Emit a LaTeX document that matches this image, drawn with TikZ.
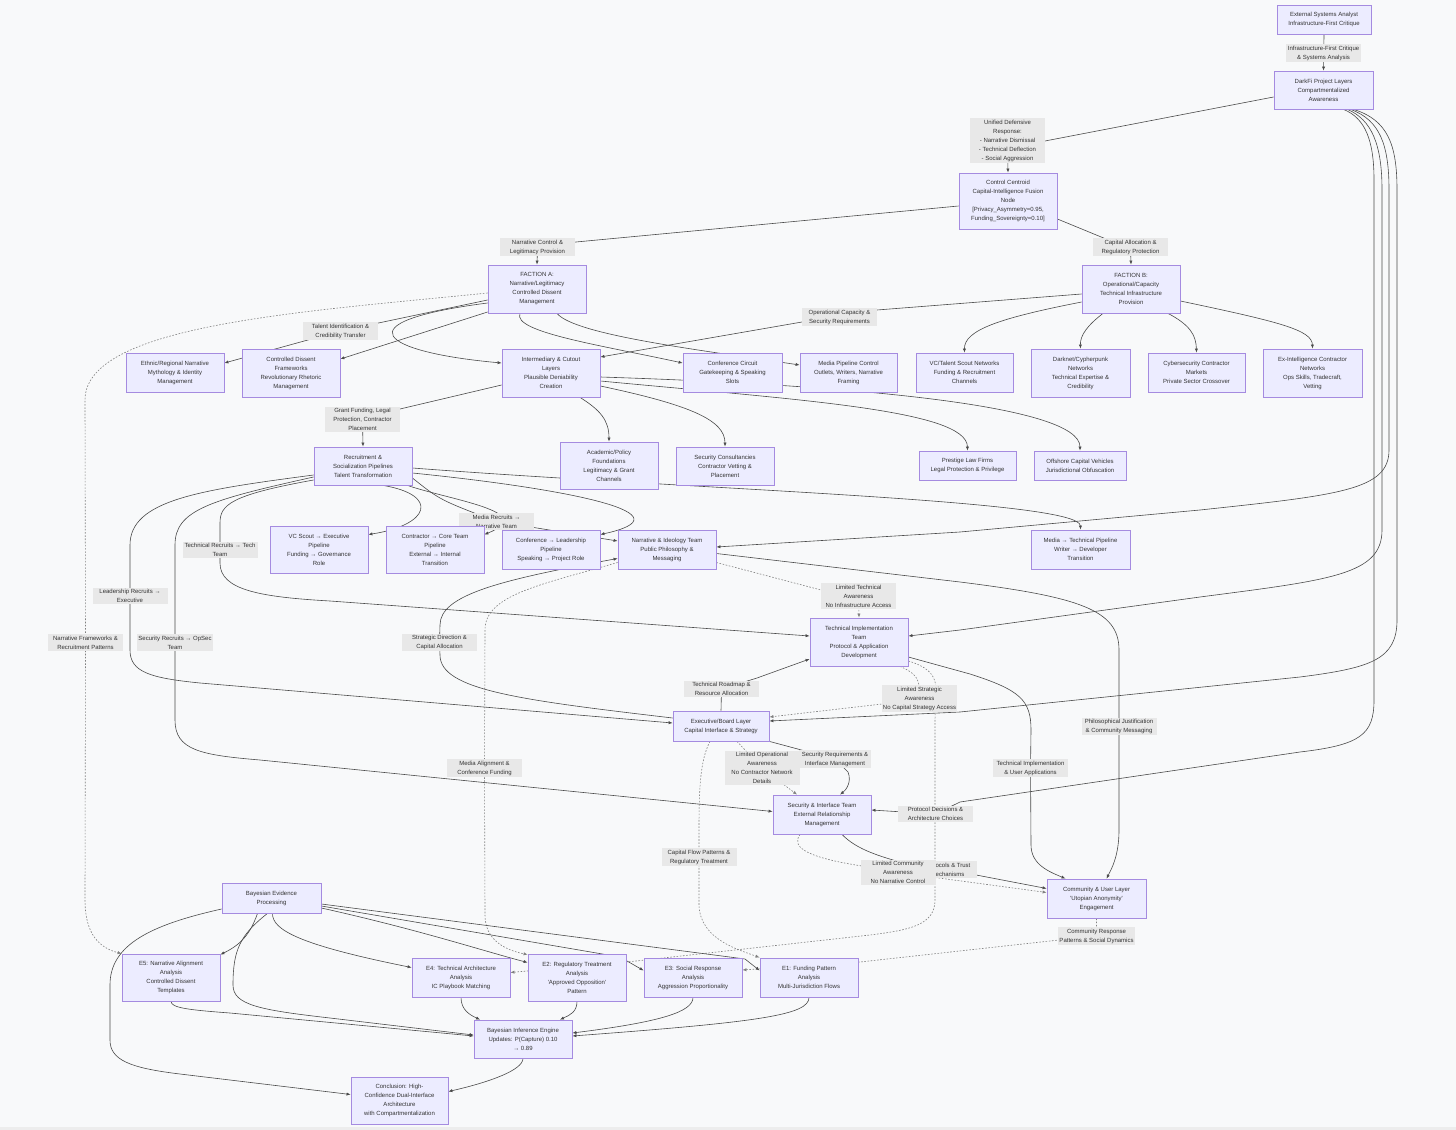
\documentclass[tikz,border=0pt]{standalone}
\usepackage{fontspec}
\setmainfont{Liberation Sans}
\usetikzlibrary{arrows.meta,calc}
\definecolor{bgc}{HTML}{F8F9FA}
\definecolor{boxf}{HTML}{ECECFF}
\definecolor{boxd}{HTML}{A58BE0}
\definecolor{lblf}{HTML}{E8E8E8}
\definecolor{txt}{HTML}{333333}
\definecolor{edc}{HTML}{4A4A4A}
\definecolor{dtc}{HTML}{808080}
\pgfdeclarelayer{bg}\pgfdeclarelayer{edges}\pgfdeclarelayer{labels}
\pgfsetlayers{bg,edges,labels,main}
\tikzset{
 nf/.style={font=\fontsize{4.5pt}{6.75pt}\selectfont},
 box/.style={nf, draw=boxd, fill=boxf, line width=0.6pt, inner sep=0pt, align=center, text=txt, minimum width=73.5pt},
 bw/.style={minimum width=#1*0.75pt},
 bh/.style={minimum height=#1*0.75pt},
 lbl/.style={nf, fill=lblf, inner xsep=0.8pt, inner ysep=1.2pt, align=center, text=txt, minimum width=56.25pt},
 ar/.style={draw=edc, line width=0.45pt, -{Latex[length=3pt,width=2.4pt]}},
 dt/.style={ar, draw=dtc, dash pattern=on 1.2pt off 1.2pt},
}
\begin{document}
\begin{tikzpicture}[x=0.75pt,y=-0.75pt]
\begin{pgfonlayer}{bg}
\fill[bgc] (0,0) rectangle (1456,1130);
\fill[black!7] (0,1127) rectangle (1456,1130);
\end{pgfonlayer}
\useasboundingbox (0,0) rectangle (1456,1130);

% ---------- nodes ----------
\node[box,bw=94,bh=29] (ext) at (1324,19.5) {External Systems Analyst\\Infrastructure-First Critique};
\node[box,bw=99,bh=38] (darkfi) at (1323.5,90) {DarkFi Project Layers\\Compartmentalized\\Awareness};
\node[box,bh=56] (centroid) at (1008,201) {Control Centroid\\Capital-Intelligence Fusion\\Node\\{}[Privacy\_Asymmetry=0.95,\\Funding\_Sovereignty=0.10]};
\node[box,bh=48] (facA) at (537,289) {FACTION A:\\Narrative/Legitimacy\\Controlled Dissent\\Management};
\node[box,bh=48] (facB) at (1131,289) {FACTION B:\\Operational/Capacity\\Technical Infrastructure\\Provision};
\node[box,bh=39] (ethnic) at (175,372.5) {Ethnic/Regional Narrative\\Mythology \& Identity\\Management};
\node[box,bh=48] (cdis) at (291,373) {Controlled Dissent\\Frameworks\\Revolutionary Rhetoric\\Management};
\node[box,bh=48] (inter) at (551,373) {Intermediary \& Cutout\\Layers\\Plausible Deniability\\Creation};
\node[box,bw=99,bh=39] (confc) at (732.5,372.5) {Conference Circuit\\Gatekeeping \& Speaking\\Slots};
\node[box,bw=97,bh=39] (mediap) at (848.5,372.5) {Media Pipeline Control\\Outlets, Writers, Narrative\\Framing};
\node[box,bw=97,bh=39] (vct) at (964.5,372.5) {VC/Talent Scout Networks\\Funding \& Recruitment\\Channels};
\node[box,bw=99,bh=48] (darknet) at (1080.5,373) {Darknet/Cypherpunk\\Networks\\Technical Expertise \&\\Credibility};
\node[box,bw=97,bh=39] (cyber) at (1196.5,372.5) {Cybersecurity Contractor\\Markets\\Private Sector Crossover};
\node[box,bw=99,bh=48] (exint) at (1312.5,373) {Ex-Intelligence Contractor\\Networks\\Ops Skills, Tradecraft,\\Vetting};
\node[box,bh=38] (recruit) at (363,466) {Recruitment \&\\Socialization Pipelines\\Talent Transformation};
\node[box,bh=47] (academic) at (609,465.5) {Academic/Policy\\Foundations\\Legitimacy \& Grant\\Channels};
\node[box,bh=38] (seccons) at (725,466) {Security Consultancies\\Contractor Vetting \&\\Placement};
\node[box,bw=97,bh=29] (prestige) at (967.5,465.5) {Prestige Law Firms\\Legal Protection \& Privilege};
\node[box,bw=92,bh=29] (offshore) at (1080,465.5) {Offshore Capital Vehicles\\Jurisdictional Obfuscation};
\node[box,bh=47] (vcscout) at (319,549.5) {VC Scout → Executive\\Pipeline\\Funding → Governance\\Role};
\node[box,bh=47] (contr) at (435,549.5) {Contractor → Core Team\\Pipeline\\External → Internal\\Transition};
\node[box,bh=39] (confl) at (551,549.5) {Conference → Leadership\\Pipeline\\Speaking → Project Role};
\node[box,bh=39] (narr) at (667,549.5) {Narrative \& Ideology Team\\Public Philosophy \&\\Messaging};
\node[box,bw=99,bh=39] (mediat) at (1080.5,549.5) {Media → Technical Pipeline\\Writer → Developer\\Transition};
\node[box,bh=48] (tech) at (859,642) {Technical Implementation\\Team\\Protocol \& Application\\Development};
\node[box,bw=96,bh=30] (exec) at (721,726) {Executive/Board Layer\\Capital Interface \& Strategy};
\node[box,bh=39] (secint) at (822,814.5) {Security \& Interface Team\\External Relationship\\Management};
\node[box,bw=99,bh=39] (comm) at (1096.5,898.5) {Community \& User Layer\\\textquotesingle Utopian Anonymity\textquotesingle\\Engagement};
\node[box,bw=99,bh=30] (bayes) at (271.5,898) {Bayesian Evidence\\Processing};
\node[box,bh=47] (e5) at (171,977.5) {E5: Narrative Alignment\\Analysis\\Controlled Dissent\\Templates};
\node[box,bh=39] (e4) at (461,977.5) {E4: Technical Architecture\\Analysis\\IC Playbook Matching};
\node[box,bh=47] (e2) at (577,977.5) {E2: Regulatory Treatment\\Analysis\\\textquotesingle Approved Opposition\textquotesingle\\Pattern};
\node[box,bh=39] (e3) at (693,977.5) {E3: Social Response\\Analysis\\Aggression Proportionality};
\node[box,bh=39] (e1) at (809,977.5) {E1: Funding Pattern\\Analysis\\Multi-Jurisdiction Flows};
\node[box,bh=38] (infer) at (523,1039) {Bayesian Inference Engine\\Updates: P(Capture) 0.10\\→ 0.89};
\node[box,bw=97,bh=47] (concl) at (399.5,1100.5) {Conclusion: High-\\Confidence Dual-Interface\\Architecture\\with Compartmentalization};

% ---------- edge labels ----------
\begin{pgfonlayer}{labels}
\node[lbl] (l1) at (1323.5,53) {Infrastructure-First Critique\\\& Systems Analysis};
\node[lbl] (l2) at (1007.5,140.5) {Unified Defensive\\Response:\\- Narrative Dismissal\\- Technical Deflection\\- Social Aggression};
\node[lbl] (l3) at (537.5,247) {Narrative Control \&\\Legitimacy Provision};
\node[lbl] (l4) at (1130.5,247) {Capital Allocation \&\\Regulatory Protection};
\node[lbl] (l5) at (839.5,317) {Operational Capacity \&\\Security Requirements};
\node[lbl] (l6) at (340.5,331) {Talent Identification \&\\Credibility Transfer};
\node[lbl] (l7) at (362.5,419.5) {Grant Funding, Legal\\Protection, Contractor\\Placement};
\node[lbl] (l8) at (496.5,521.5) {Media Recruits →\\Narrative Team};
\node[lbl] (l9) at (220,550) {Technical Recruits → Tech\\Team};
\node[lbl] (l10) at (130,596) {Leadership Recruits →\\Executive};
\node[lbl] (l11) at (85.5,642.5) {Narrative Frameworks \&\\Recruitment Patterns};
\node[lbl] (l12) at (175,642.5) {Security Recruits → OpSec\\Team};
\node[lbl] (l13) at (439.5,642.5) {Strategic Direction \&\\Capital Allocation};
\node[lbl] (l14) at (858.5,596) {Limited Technical\\Awareness\\No Infrastructure Access};
\node[lbl] (l15) at (721.5,689) {Technical Roadmap \&\\Resource Allocation};
\node[lbl] (l16) at (919.5,698.5) {Limited Strategic\\Awareness\\No Capital Strategy Access};
\node[lbl] (l17) at (1119,726.5) {Philosophical Justification\\\& Community Messaging};
\node[lbl] (l18) at (484.5,768) {Media Alignment \&\\Conference Funding};
\node[lbl] (l19) at (762,768) {Limited Operational\\Awareness\\No Contractor Network\\Details};
\node[lbl,minimum width=54pt] (l20) at (835,759) {Security Requirements \&\\Interface Management};
\node[lbl] (l21) at (1030.5,768) {Technical Implementation\\\& User Applications};
\node[lbl] (l22) at (935.5,814) {Protocol Decisions \&\\Architecture Choices};
\node[lbl] (l23) at (699,857) {Capital Flow Patterns \&\\Regulatory Treatment};
\node[lbl,minimum width=44pt] (l24) at (947.5,869.5) {Protocols \& Trust\\Mechanisms};
\node[lbl] (l25) at (898,872.5) {Limited Community\\Awareness\\No Narrative Control};
\node[lbl] (l26) at (1096.5,936) {Community Response\\Patterns \& Social Dynamics};
\end{pgfonlayer}

% ---------- edges ----------
\begin{pgfonlayer}{edges}
\draw[ar] (ext.south) -- (darkfi.north);
\draw[ar] ($(darkfi.west)+(0,7)$) -- (1045,141) -- (l2.center) -- (centroid.north);
\draw[ar] ($(centroid.west)+(0,5)$) -- (576,242) -- (l3.center) -- (facA.north);
\draw[ar] ($(centroid.east)+(0,18)$) -- (1106,239) -- (l4.center) -- (facB.north);
\draw[ar] ($(facB.west)+(0,5)$) -- (877,310) -- (l5.center) -- (802,322) -- ($(inter.east)+(0,-16)$);
\draw[ar] ($(facB.west)+(0,13)$) .. controls (1000,318) and (964,330) .. (vct.north);
\draw[ar] ($(facB.south)+(-28,0)$) .. controls (1088,325) and (1080,335) .. (darknet.north);
\draw[ar] ($(facB.south)+(37,0)$) .. controls (1190,325) and (1196,335) .. (cyber.north);
\draw[ar] ($(facB.east)+(0,12)$) .. controls (1280,322) and (1312,330) .. (exint.north);
% Faction A
\draw[dt] ($(facA.west)+(0,4)$) .. controls (300,312) and (85,325) .. (85,400) -- (l11.center) -- (85,900) .. controls (85,935) and (100,948) .. (e5.north west);
\draw[ar] ($(facA.west)+(0,11)$) -- (l6.center) -- ($(ethnic.east)+(0,-9.5)$);
\draw[ar] ($(facA.west)+(0,23)$) -- ($(cdis.east)+(0,-14)$);
\draw[ar] ($(facA.west)+(0,14)$) .. controls (340,322) and (380,352) .. ($(inter.west)+(0,-10)$);
\draw[ar] ($(facA.south)+(-17,0)$) .. controls (512,332) and (600,345) .. ($(confc.west)+(0,-9.5)$);
\draw[ar] ($(facA.south)+(20,0)$) .. controls (575,335) and (700,350) .. ($(mediap.west)+(0,-7.5)$);
% Intermediary
\draw[ar] ($(inter.west)+(0,12)$) -- (400,409) -- (l7.center) -- (recruit.north);
\draw[ar] ($(inter.south)+(29,0)$) .. controls (600,410) and (609,420) .. (academic.north);
\draw[ar] ($(inter.east)+(0,13)$) .. controls (690,405) and (725,420) .. (seccons.north);
\draw[ar] ($(inter.east)+(0,8)$) .. controls (800,400) and (967,410) .. (prestige.north);
\draw[ar] ($(inter.east)+(0,4)$) .. controls (850,385) and (1080,405) .. (offshore.north);
% Recruitment
\draw[ar] ($(recruit.south)+(20,0)$) .. controls (440,495) and (430,525) .. ($(vcscout.east)+(0,-15)$);
\draw[ar] ($(recruit.south east)+(-5,0)$) .. controls (450,500) and (540,512) .. ($(contr.east)+(0,-15)$);
\draw[ar] ($(recruit.east)+(0,7)$) .. controls (580,490) and (690,515) .. ($(confl.east)+(0,-15)$);
\draw[ar] ($(recruit.east)+(0,12)$) .. controls (440,500) .. (l8.center) -- ($(narr.west)+(0,-8.5)$);
\draw[ar] ($(recruit.east)+(0,2)$) .. controls (700,490) and (1080,500) .. (mediat.north);
\draw[ar] ($(recruit.west)+(0,14)$) .. controls (230,495) and (220,505) .. (220,523) -- (l9.center) -- (220,563) .. controls (220,590) and (260,597) .. (330,601) -- ($(tech.west)+(0,-6)$);
\draw[ar] ($(recruit.west)+(0,9)$) .. controls (200,490) and (130,500) .. (130,545) -- (l10.center) -- (130,650) .. controls (130,672) and (150,678) .. (200,683) -- ($(exec.west)+(0,-3)$);
\draw[ar] ($(recruit.west)+(0,11)$) .. controls (210,500) and (175,510) .. (175,545) -- (l12.center) -- (175,720) .. controls (175,750) and (200,755) .. (260,760) -- ($(secint.west)+(0,-3)$);
% DarkFi right-hand curves
\draw[ar] ($(darkfi.south)+(20,0)$) .. controls (1365,118) and (1374,140) .. (1374,180) -- (1374,700) .. controls (1374,735) and (1360,745) .. (1300,752) -- (960,802) -- (l22.center) -- ($(secint.east)+(0,-4.5)$);
\draw[ar] ($(darkfi.south)+(24,0)$) .. controls (1372,120) and (1382,145) .. (1382,190) -- (1382,530) .. controls (1382,575) and (1330,580) .. (1200,597) -- (960,630) -- ($(tech.east)+(0,-6)$);
\draw[ar] ($(darkfi.south)+(27,0)$) .. controls (1380,120) and (1389,145) .. (1389,190) -- (1389,450) .. controls (1389,490) and (1340,495) .. (1200,510) -- (960,532) -- ($(narr.east)+(0,-2.5)$);
\draw[ar] ($(darkfi.south)+(30,0)$) .. controls (1388,120) and (1397,145) .. (1397,190) -- (1397,620) .. controls (1397,660) and (1370,668) .. (1300,677) -- (960,712) -- ($(exec.east)+(0,-5)$);
% Teams
\draw[ar] ($(narr.east)+(0,4)$) -- (960,582) .. controls (1080,597) and (1119,610) .. (1119,650) -- (l17.center) -- (1119,830) .. controls (1119,855) and (1112,868) .. ($(comm.north)+(10,0)$);
\draw[ar] ($(tech.east)+(0,15)$) -- (970,674) .. controls (1020,690) and (1031,700) .. (1031,730) -- (l21.center) -- (1031,845) .. controls (1031,865) and (1050,872) .. ($(comm.north)+(-31,0)$);
\draw[dt] ($(narr.east)+(0,13)$) -- (821,590) -- (l14.center) -- (tech.north);
\draw[ar] (exec.north) -- (l15.center) -- (757,678) -- ($(tech.west)+(0,17)$);
\draw[dt] ($(tech.south)+(41,0)$) .. controls (915,673) and (921,678) .. (l16.center) -- (882,704) -- ($(exec.east)+(0,-9)$);
\draw[dt] ($(tech.east)+(0,19)$) .. controls (945,672) and (935,690) .. (935,720) -- (935,900) .. controls (935,925) and (910,930) .. (870,935) -- (627,962) -- ($(e4.east)+(0,-5)$);
\draw[dt] ($(exec.south)+(16,0)$) -- (l19.center) -- ($(secint.north)+(-25,0)$);
\draw[ar] (exec.south east) -- (l20.center) -- (848,772) .. controls (852,782) and (846,790) .. ($(secint.north)+(18,0)$);
\draw[dt] ($(exec.south)+(-11,0)$) .. controls (700,760) and (699,790) .. (699,830) -- (l23.center) -- (699,905) .. controls (700,940) and (740,950) .. (e1.north west);
\draw[ar] ($(secint.south)+(20,0)$) .. controls (855,848) and (875,855) .. (900,862) -- (l24.center) -- ($(comm.west)+(0,-10)$);
\draw[dt] ($(secint.south)+(-22,0)$) .. controls (790,848) and (810,858) .. (862,866) -- (l25.center) -- ($(comm.west)+(0,-6)$);
\draw[dt] (comm.south) -- (l26.center) -- (1059,940) -- (860,962) -- ($(e3.east)+(0,-7.5)$);
\draw[dt] ($(narr.west)+(0,13)$) .. controls (540,585) and (485,595) .. (485,630) -- (l18.center) -- (485,915) .. controls (485,940) and (505,950) .. ($(e2.north west)+(0,1)$);
\draw[ar] ($(exec.west)+(0,-8)$) .. controls (520,700) and (440,690) .. (440,655) -- (l13.center) -- (440,625) .. controls (440,595) and (500,580) .. ($(narr.west)+(0,9)$);
% Bayesian
\draw[ar] ($(bayes.south)+(-14,0)$) .. controls (250,935) and (240,945) .. ($(e5.north east)+(0,1)$);
\draw[ar] ($(bayes.south)+(-4,0)$) .. controls (240,935) and (233,950) .. (233,985) .. controls (233,1005) and (260,1010) .. (330,1018) -- ($(infer.west)+(0,-4)$);
\draw[ar] (e5.south) .. controls (171,1008) and (190,1010) .. (230,1013) -- ($(infer.west)+(0,-3)$);
\draw[ar] ($(bayes.south)+(1,0)$) .. controls (272,930) and (300,945) .. ($(e4.west)+(0,-10)$);
\draw[ar] ($(bayes.east)+(0,10)$) .. controls (420,930) and (480,950) .. ($(e2.west)+(0,-15)$);
\draw[ar] ($(bayes.east)+(0,8)$) -- (620,957) -- ($(e3.west)+(0,-7)$);
\draw[ar] ($(bayes.east)+(0,6)$) -- (745,959) -- ($(e1.west)+(0,-7)$);
\draw[ar] ($(bayes.west)+(0,11)$) .. controls (150,925) and (110,945) .. (110,985) -- (110,1040) .. controls (110,1060) and (130,1068) .. (180,1074) -- ($(concl.west)+(0,-6)$);
\draw[ar] (e4.south) .. controls (461,1010) and (470,1015) .. ($(infer.north)+(-43,0)$);
\draw[ar] (e2.south) .. controls (577,1012) and (570,1015) .. ($(infer.north)+(37,0)$);
\draw[ar] (e3.south) .. controls (693,1012) and (660,1022) .. ($(infer.east)+(0,-6)$);
\draw[ar] (e1.south) .. controls (809,1015) and (760,1022) .. ($(infer.east)+(0,-3)$);
\draw[ar] (infer.south) .. controls (523,1070) and (490,1082) .. ($(concl.east)+(0,-9)$);
\end{pgfonlayer}
\end{tikzpicture}
\end{document}
